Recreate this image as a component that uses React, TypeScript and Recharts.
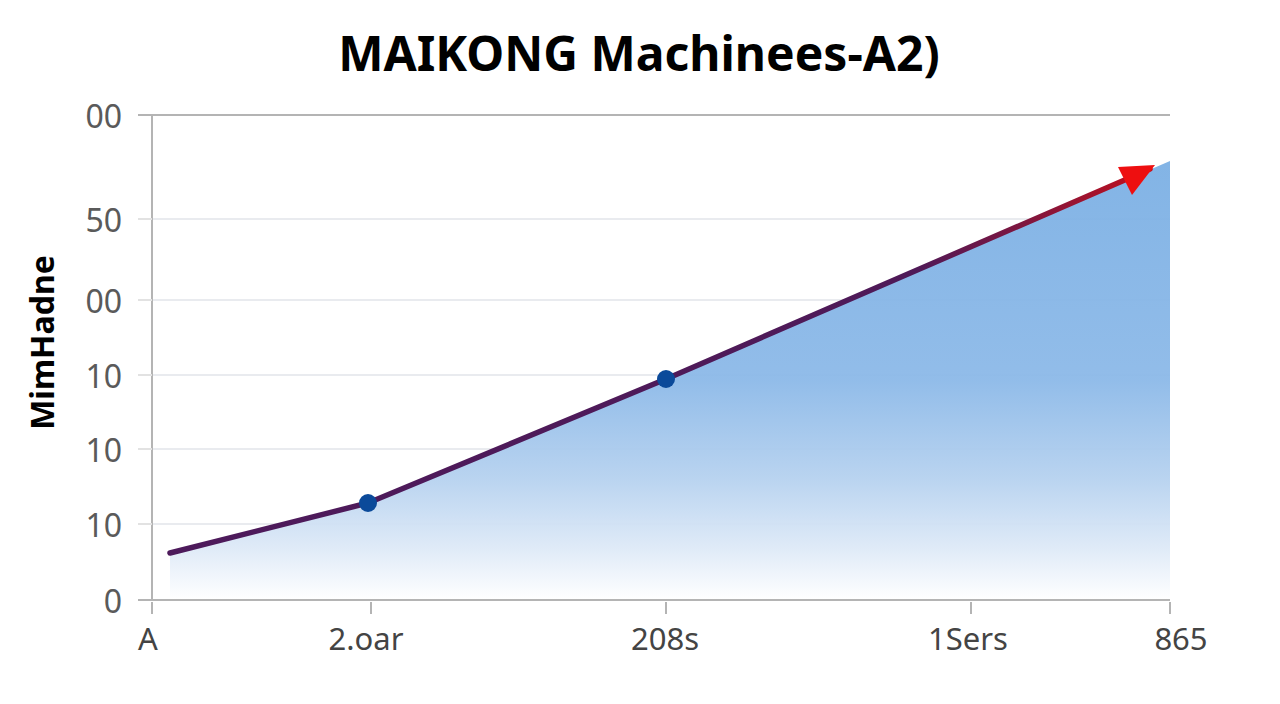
import { ComposedChart, Area, Line, XAxis, YAxis, CartesianGrid, ReferenceLine, Label } from 'recharts'

const title = 'MAIKONG Machinees-A2)'
const yTitle = 'MimHadne'

const xTicks = [0, 219, 514, 819, 1018]
const xLabels = ['A', '2.oar', '208s', '1Sers', '865']
const xNudge = [-4, -5, -1, -3, 11]

const yTicks = [0, 76, 151, 225, 300, 381, 485]
const yLabels = ['0', '10', '10', '10', '00', '50', '00']

const areaX = [18, 216, 514, 1018]
const areaY = [47, 97, 221, 439]
const lineX = [18, 216, 514, 998]
const lineY = [47, 97, 221, 431]

const areaData = areaX.map((x, i) => ({ x, fill: areaY[i] }))
const lineData = lineX.map((x, i) => ({ x, value: lineY[i] }))

const font = '"Noto Sans", sans-serif'

function XTick({ x, y, index }: any) {
  return (
    <g>
      <line x1={x} x2={x} y1={y - 8} y2={y + 4} stroke="#b4b4b4" strokeWidth={2} />
      <text x={x + xNudge[index]} y={y + 40} textAnchor="middle" fontFamily={font} fontSize={31} fill="#444">
        {xLabels[index]}
      </text>
    </g>
  )
}

function YTick({ x, y, index }: any) {
  const strong = index === 0 || index === yTicks.length - 1
  return (
    <g>
      <line x1={x - 14} x2={x} y1={y} y2={y} stroke={strong ? '#b4b4b4' : '#e2e2e2'} strokeWidth={2} />
      <text x={x - 30} y={y + 13} textAnchor="end" fontFamily={font} fontSize={32} fill="#5a5a5a">
        {yLabels[index]}
      </text>
    </g>
  )
}

function LineDot({ cx, cy, index }: any) {
  if (index === lineX.length - 1) {
    return (
      <polygon
        key={index}
        points={`${cx + 5},${cy - 4} ${cx - 32},${cy - 2} ${cx - 18},${cy + 26}`}
        fill="#ee0f10"
      />
    )
  }
  if (index === 0) return <g key={index} />
  return <circle key={index} cx={cx} cy={cy} r={9} fill="#0b4a9a" />
}

export default function App() {
  return (
    <div style={{ position: 'absolute', left: 0, top: 0, width: 1280, height: 704, background: '#fff' }}>
      <div
        style={{
          position: 'absolute',
          left: 0,
          width: 1278,
          top: 23,
          textAlign: 'center',
          fontFamily: font,
          fontWeight: 700,
          fontSize: 48,
          lineHeight: '60px',
          color: '#000',
        }}
      >
        {title}
      </div>
      <ComposedChart width={1280} height={704} margin={{ top: 115, right: 110, bottom: 0, left: 0 }}>
        <defs>
          <linearGradient id="areaFill" x1="0" y1="0" x2="0" y2="1">
            <stop offset="0%" stopColor="#7cb0e4" />
            <stop offset="50%" stopColor="#8cb9e8" />
            <stop offset="72%" stopColor="#b5d1ef" />
            <stop offset="88%" stopColor="#dde9f7" />
            <stop offset="100%" stopColor="#ffffff" />
          </linearGradient>
          <linearGradient id="lineStroke" x1="0" y1="0" x2="1" y2="0">
            <stop offset="0%" stopColor="#4d1a5b" />
            <stop offset="76%" stopColor="#4f1a58" />
            <stop offset="90%" stopColor="#8c1538" />
            <stop offset="100%" stopColor="#c40f1c" />
          </linearGradient>
        </defs>
        <Area
          data={areaData}
          dataKey="fill"
          type="linear"
          stroke="none"
          fill="url(#areaFill)"
          fillOpacity={0.95}
          isAnimationActive={false}
        />
        <CartesianGrid horizontal vertical={false} stroke="#6f7f95" strokeOpacity={0.2} strokeWidth={1.5} />
        <XAxis
          dataKey="x"
          type="number"
          domain={[0, 1018]}
          ticks={xTicks}
          interval={0}
          height={104}
          axisLine={{ stroke: '#b4b4b4', strokeWidth: 2 }}
          tickLine={false}
          tick={<XTick />}
          tickSize={8}
        />
        <YAxis
          type="number"
          domain={[0, 485]}
          ticks={yTicks}
          interval={0}
          width={152}
          axisLine={{ stroke: '#b4b4b4', strokeWidth: 2 }}
          tickLine={false}
          tick={<YTick />}
          tickSize={0}
          tickMargin={0}
        >
          <Label
            value={yTitle}
            angle={-90}
            position="insideLeft"
            dx={38}
            dy={-15}
            style={{ fontFamily: font, fontWeight: 700, fontSize: 32, fill: '#000', textAnchor: 'middle' }}
          />
        </YAxis>
        <ReferenceLine y={485} stroke="#b4b4b4" strokeWidth={2} />
        <Line
          data={lineData}
          dataKey="value"
          type="linear"
          stroke="url(#lineStroke)"
          strokeWidth={5.5}
          strokeLinecap="round"
          dot={<LineDot />}
          activeDot={false}
          isAnimationActive={false}
        />
      </ComposedChart>
    </div>
  )
}
